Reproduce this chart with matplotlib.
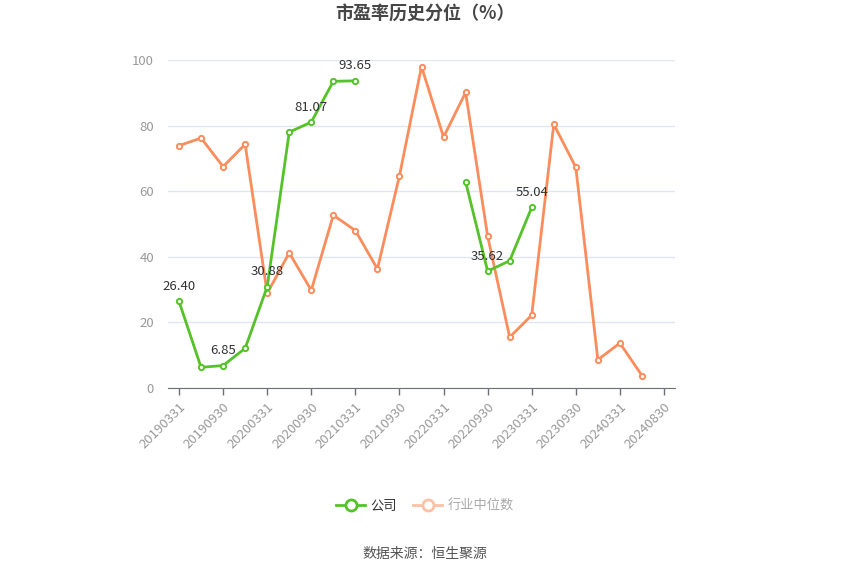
import numpy as np
import matplotlib.pyplot as plt
from matplotlib.lines import Line2D

plt.rcParams['font.family'] = ['Noto Sans CJK SC', 'DejaVu Sans']

dates = ['20190331', '20190630', '20190930', '20191231', '20200331', '20200630',
         '20200930', '20201231', '20210331', '20210630', '20210930', '20211231',
         '20220331', '20220630', '20220930', '20221231', '20230331', '20230630',
         '20230930', '20231231', '20240331', '20240630', '20240830']
company = [26.40, 6.3, 6.85, 12.1, 30.88, 78.0, 81.07, 93.5, 93.65,
           None, None, None, None, 62.9, 35.62, 38.8, 55.04,
           None, None, None, None, None, None]
industry = [73.9, 76.2, 67.5, 74.3, 28.9, 41.2, 29.8, 52.7, 48.0, 36.3, 64.7,
            98.0, 76.5, 90.1, 46.3, 15.5, 22.2, 80.4, 67.3, 8.6, 13.7, 3.8, None]
labeled = ['20190331', '20190930', '20200331', '20200930', '20210331',
           '20220930', '20230331']

green = '#56c22a'
orange = '#fb8c5c'

comp = np.array([np.nan if v is None else v for v in company])
ind = np.array([np.nan if v is None else v for v in industry])
x = np.arange(len(dates))

fig = plt.figure(figsize=(8.5, 5.75), dpi=100)
ax = fig.add_axes([168 / 850, 1 - 388 / 575, 507 / 850, 328 / 575])

ax.plot(x, ind, color=orange, lw=2, marker='o', ms=3.8, mfc='white',
        mec=orange, mew=1.4, zorder=3)
ax.plot(x, comp, color=green, lw=2, marker='o', ms=3.8, mfc='white',
        mec=green, mew=1.4, zorder=4)

for i, d in enumerate(dates):
    if d in labeled:
        ax.annotate('%.2f' % comp[i], (x[i], comp[i]), xytext=(0, 6),
                    textcoords='offset points', ha='center', va='bottom',
                    fontsize=9.5, color='#333333', zorder=5)

ax.set_xlim(-0.5, len(dates) - 0.5)
ax.set_ylim(0, 100)
ax.set_yticks([0, 20, 40, 60, 80, 100])
ax.set_xticks(x[::2])
ax.set_xticklabels(dates[::2], rotation=45, ha='right', rotation_mode='anchor')
ax.tick_params(axis='x', colors='#999999', labelsize=9.5, length=5,
               width=1, pad=4)
ax.tick_params(axis='x', color='#6e7079')
ax.tick_params(axis='y', colors='#999999', labelsize=9.5, length=0, pad=10)
ax.grid(axis='y', color='#e0e6f1', lw=1)
ax.set_axisbelow(True)
for s in ['top', 'right', 'left']:
    ax.spines[s].set_visible(False)
ax.spines['bottom'].set_color('#6e7079')

fig.text(0.5, 1 - 14 / 575, '市盈率历史分位（%）', ha='center', va='center',
         fontsize=13, fontweight='bold', color='#464646')

handles = [Line2D([], [], color=green, lw=2, marker='o', ms=8, mfc='white',
                  mec=green, mew=2),
           Line2D([], [], color='#fdc1a6', lw=2, marker='o', ms=8, mfc='white',
                  mec='#fdc1a6', mew=2)]
leg = fig.legend(handles, ['公司', '行业中位数'], loc='center',
                 bbox_to_anchor=(0.5, 1 - 506 / 575), ncol=2, frameon=False,
                 fontsize=9.5, handlelength=2.2, columnspacing=1.2,
                 handletextpad=0.4)
leg.get_texts()[0].set_color('#333333')
leg.get_texts()[1].set_color('#aaaaaa')

fig.text(0.5, 1 - 554 / 575, '数据来源：恒生聚源', ha='center', va='center',
         fontsize=10, color='#555555')

fig.savefig('out.png', dpi=100)
